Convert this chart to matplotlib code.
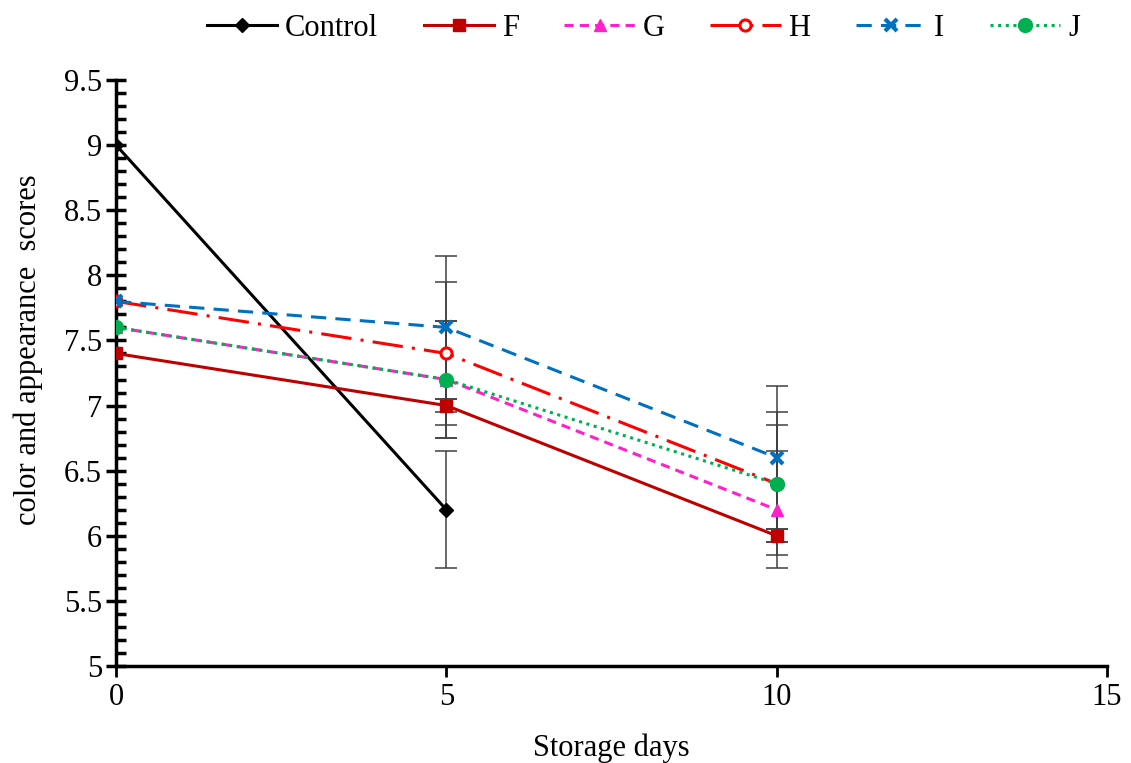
import matplotlib.pyplot as plt
import numpy as np
from matplotlib.ticker import MultipleLocator

plt.rcParams['font.family'] = ['Liberation Serif', 'DejaVu Serif']

# storage days and sensory scores
days = [0, 5, 10]
control = [9.0, 6.2]
f_vals = [7.4, 7.0, 6.0]
g_vals = [7.6, 7.2, 6.2]
h_vals = [7.8, 7.4, 6.4]
i_vals = [7.8, 7.6, 6.6]
j_vals = [7.6, 7.2, 6.4]

# error bars (days 5 and 10 only; day 0 hidden behind the axis)
err_days = [5, 10]
control_err = [0.45]
f_err = [0.05, 0.05]
g_err = [0.45, 0.45]
h_err = [0.55, 0.55]
i_err = [0.55, 0.55]
j_err = [0.45, 0.45]

fig = plt.figure(figsize=(11.31, 7.63), dpi=100)
ax = fig.add_axes([0.1026, 0.1271, 0.8762, 0.7681])

err_kw = dict(fmt='none', ecolor='#404040', elinewidth=1.1, capsize=8, capthick=1.1, zorder=1)
ax.errorbar(err_days[:1], control[1:], yerr=control_err, **err_kw)
ax.errorbar(err_days, f_vals[1:], yerr=f_err, **err_kw)
ax.errorbar(err_days, g_vals[1:], yerr=g_err, **err_kw)
ax.errorbar(err_days, h_vals[1:], yerr=h_err, **err_kw)
ax.errorbar(err_days, i_vals[1:], yerr=i_err, **err_kw)
ax.errorbar(err_days, j_vals[1:], yerr=j_err, **err_kw)

lw = 2.2
ax.plot(days[:2], control, color='black', lw=lw, marker='D', ms=7, label='Control', zorder=3)
ax.plot(days, f_vals, color='#C00000', lw=lw, marker='s', ms=9, label='F', zorder=3)
ax.plot(days, g_vals, color='#FF1FCB', lw=lw, ls=(0, (3, 2)), marker='^', ms=9, label='G', zorder=3)
ax.plot(days, h_vals, color='#FF0000', lw=lw, ls=(0, (10, 3, 1, 3)), marker='o', ms=8,
        mfc='white', mew=2.2, label='H', zorder=3)
ax.plot(days, i_vals, color='#0070C0', lw=lw, ls=(0, (5, 3)), marker='x', ms=8, mew=3,
        label='I', zorder=3)
ax.plot(days, j_vals, color='#00B050', lw=lw, ls=(0, (1, 1.5)), marker='o', ms=10, label='J', zorder=3)

ax.set_xlim(0, 15)
ax.set_ylim(5, 9.5)
ax.xaxis.set_major_locator(MultipleLocator(5))
ax.yaxis.set_minor_locator(MultipleLocator(0.1))
ax.set_yticks(np.arange(5, 9.51, 0.5))
ax.set_yticklabels(['5', '5.5', '6', '6.5', '7', '7.5', '8', '8.5', '9', '9.5'])

for s in ['top', 'right']:
    ax.spines[s].set_visible(False)
for s in ['left', 'bottom']:
    ax.spines[s].set_linewidth(2.5)

ax.tick_params(axis='y', which='major', direction='inout', length=14, width=2.5, labelsize=22, pad=3)
ax.tick_params(axis='y', which='minor', direction='in', length=7, width=2.5)
ax.tick_params(axis='x', which='major', direction='out', length=8, width=2, labelsize=22, pad=4)

ax.set_xlabel('Storage days', fontsize=22, labelpad=16)
ax.set_ylabel('color and appearance  scores', fontsize=22)
ax.yaxis.set_label_coords(-0.074, 0.54)

ax.legend(loc='center', bbox_to_anchor=(0.532, 1.088), ncol=6, frameon=False, fontsize=22,
          handlelength=2.3, columnspacing=1.5, handletextpad=0.25)

fig.savefig('out.png', dpi=100)
